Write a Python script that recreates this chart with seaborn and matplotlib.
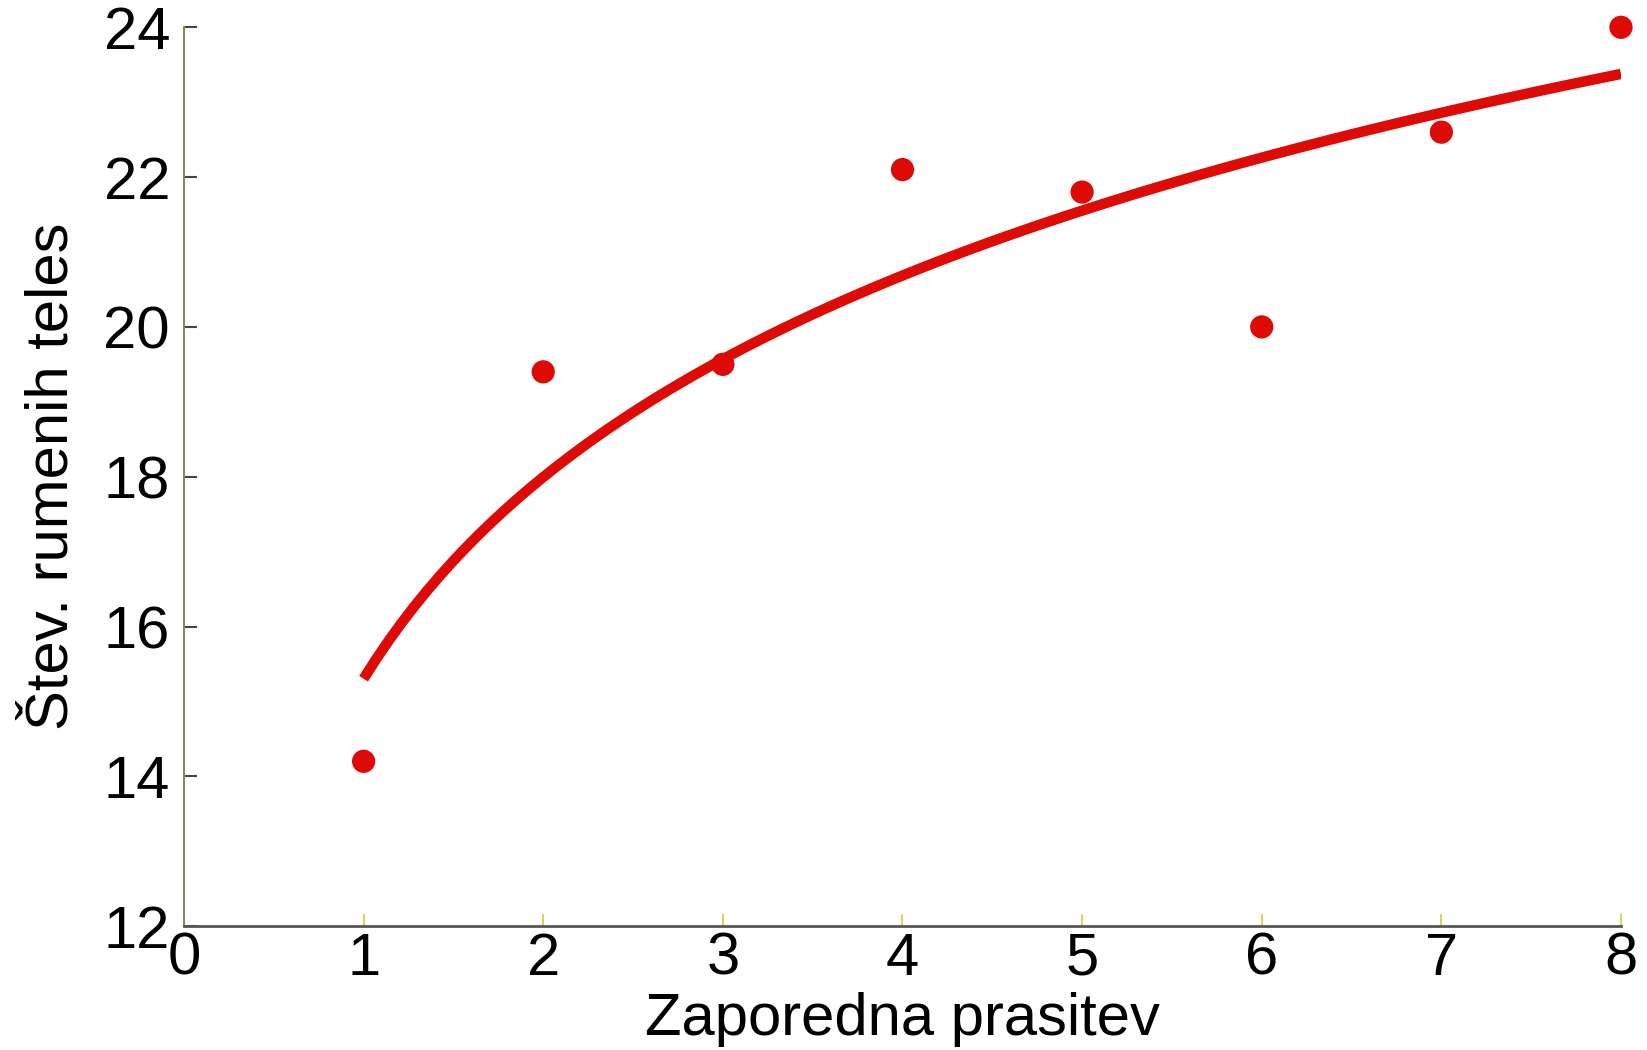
import numpy as np
import pandas as pd
import matplotlib
matplotlib.use('Agg')
import matplotlib.pyplot as plt
import seaborn as sns

# Data
prasitev = [1, 2, 3, 4, 5, 6, 7, 8]
rumena_telesa = [14.2, 19.4, 19.5, 22.1, 21.8, 20.0, 22.6, 24.0]

x_ticks = [0, 1, 2, 3, 4, 5, 6, 7, 8]
y_ticks = [12, 14, 16, 18, 20, 22, 24]

df = pd.DataFrame({'prasitev': prasitev, 'telesa': rumena_telesa})

sns.set_style('white')
plt.rcParams['font.family'] = ['Liberation Sans', 'DejaVu Sans']
plt.rcParams['text.color'] = 'black'
plt.rcParams['axes.labelcolor'] = 'black'
plt.rcParams['xtick.color'] = 'black'
plt.rcParams['ytick.color'] = 'black'

fig = plt.figure(figsize=(16.47, 10.5), dpi=100)
ax = fig.add_axes([0.1117, 0.118, 0.8725, 0.856])

red = '#dd0a05'
# logarithmic fit y = a + b*ln(x), as in the original
sns.regplot(data=df, x='prasitev', y='telesa', ax=ax, logx=True, ci=None,
            truncate=True,
            scatter_kws={'s': 280, 'color': red, 'edgecolor': 'none', 'alpha': 1},
            line_kws={'color': red, 'linewidth': 7.5, 'solid_capstyle': 'butt'})

ax.set_xlim(0, 8)
ax.set_ylim(12, 24)
ax.set_xticks(x_ticks)
ax.set_yticks(y_ticks)
ax.set_xticklabels([str(v) for v in x_ticks], fontsize=43)
ax.set_yticklabels([str(v) for v in y_ticks], fontsize=43)

ax.set_xlabel('Zaporedna prasitev', fontsize=43, labelpad=4)
ax.set_ylabel('Štev. rumenih teles', fontsize=43, labelpad=17)

for side in ['top', 'right']:
    ax.spines[side].set_visible(False)
ax.spines['left'].set_color('#8a8a62')
ax.spines['left'].set_linewidth(1.5)
ax.spines['bottom'].set_color('#555555')
ax.spines['bottom'].set_linewidth(2)

ax.tick_params(axis='y', left=True, direction='in', length=9, width=1.5,
               color='#444444', labelcolor='black', pad=10)
ax.tick_params(axis='x', bottom=True, direction='in', length=9, width=1.5,
               color='#d6d65a', labelcolor='black', pad=4)
for c in ax.collections:
    c.set_clip_on(False)

plt.savefig('out.png', dpi=100)
plt.close()
